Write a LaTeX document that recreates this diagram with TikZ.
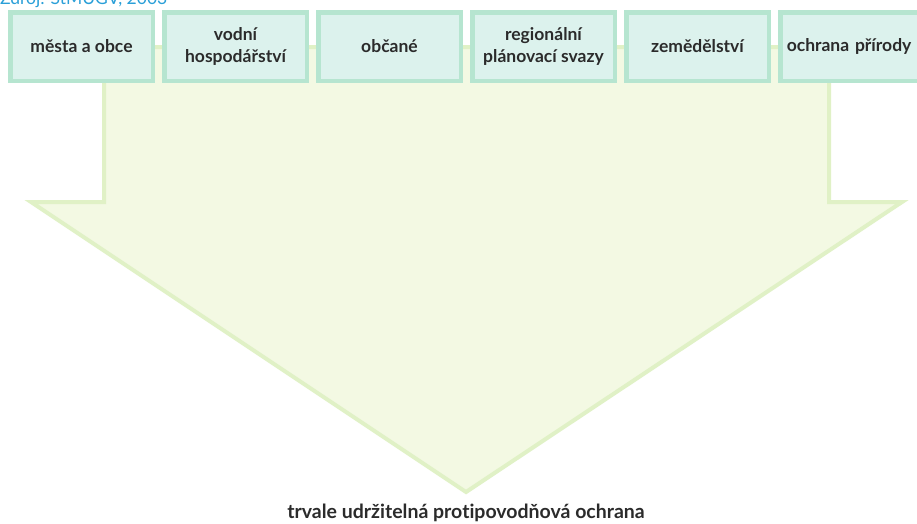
\documentclass[tikz,border=0pt]{standalone}
\usepackage{fontspec}
\setmainfont{Lato}[Ligatures={NoCommon}]
\definecolor{boxfill}{HTML}{DCF2ED}
\definecolor{boxline}{HTML}{B6E5D0}
\definecolor{arrfill}{HTML}{F3F9E3}
\definecolor{arrline}{HTML}{E0F1C6}
\definecolor{txt}{HTML}{2B2B2B}
\definecolor{src}{HTML}{2A9FD8}
\begin{document}
\begin{tikzpicture}[x=1pt,y=-1pt,
  actor/.style={draw=boxline,fill=boxfill,line width=4.5pt,minimum width=142.5pt,minimum height=68.5pt,
    inner sep=0pt,align=center,font=\bfseries\fontsize{17.5}{21.5}\selectfont,text=txt},
  bigarrow/.style={draw=arrline,fill=arrfill,line width=4pt,line join=miter}]
\useasboundingbox (0,0) rectangle (917,523);
\clip (0,0) rectangle (917,523);
\fill[white] (0,0) rectangle (917,523);
\node[anchor=base west,text=src,font=\fontsize{17.5}{20}\selectfont,inner sep=0pt] (src) at (0,4) {Zdroj: StMUGV, 2003};
\draw[bigarrow] (104,47) -- (829,47) -- (829,202) -- (902,202) -- (466,492) -- (31,202) -- (104,202) -- cycle;
\node[actor] (b1) at (81.5,46.5) {města a obce};
\node[actor] (b2) at (235.5,46.5) {vodní\\hospodářství};
\node[actor] (b3) at (389.5,46.5) {občané};
\node[actor] (b4) at (543.5,46.5) {regionální\\plánovací svazy};
\node[actor] (b5) at (697.5,46.5) {zemědělství};
\node[actor,text width=142.5pt,align=left] (b6) at (851.5,46.5) {\hspace*{6.5pt}ochrana přírody};
\node[anchor=base,text=txt,font=\bfseries\fontsize{19.5}{22}\selectfont,inner sep=0pt] (goal) at (466,518) {trvale udržitelná protipovodňová ochrana};
\end{tikzpicture}
\end{document}
